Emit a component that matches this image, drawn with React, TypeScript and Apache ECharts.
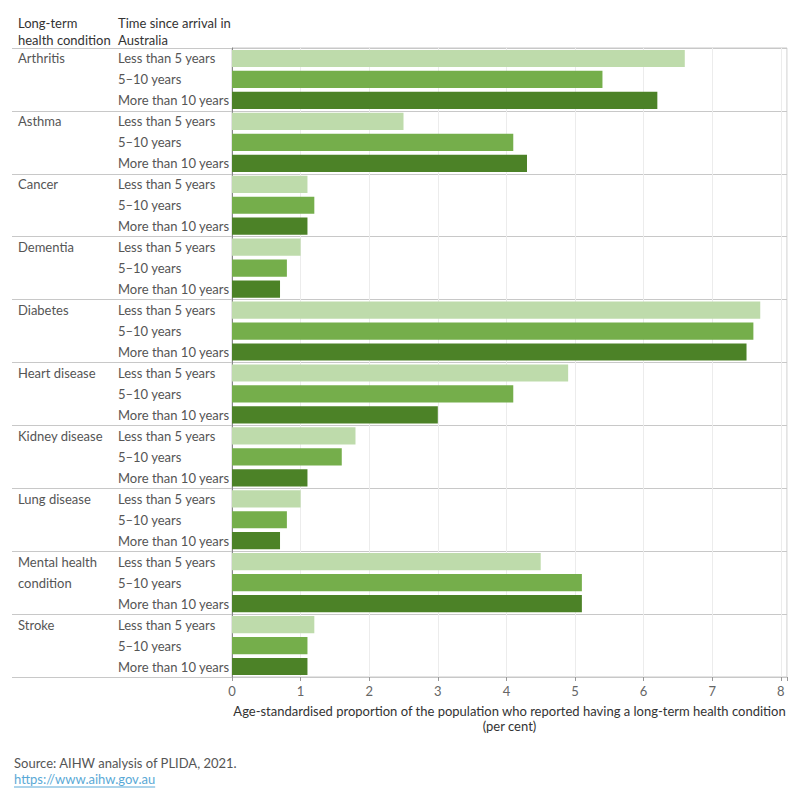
import React, { useEffect, useRef } from "react";
import * as echarts from "echarts";

// Long-term health conditions by time since arrival in Australia
const conditions = [
  "Arthritis",
  "Asthma",
  "Cancer",
  "Dementia",
  "Diabetes",
  "Heart disease",
  "Kidney disease",
  "Lung disease",
  "Mental health\ncondition",
  "Stroke",
];
const periods = ["Less than 5 years", "5–10 years", "More than 10 years"];

// Age-standardised proportion (per cent)
const lessThan5Years = [6.6, 2.5, 1.1, 1.0, 7.7, 4.9, 1.8, 1.0, 4.5, 1.2];
const fiveToTenYears = [5.4, 4.1, 1.2, 0.8, 7.6, 4.1, 1.6, 0.8, 5.1, 1.1];
const moreThan10Years = [6.2, 4.3, 1.1, 0.7, 7.5, 3.0, 1.1, 0.7, 5.1, 1.1];

const xTicks = [0, 1, 2, 3, 4, 5, 6, 7, 8];

const periodColors = ["#bedbab", "#75ae4b", "#4c8227"];
const FONT = "Lato";
const FS = 13;

const sourceText = "Source: AIHW analysis of PLIDA, 2021.";
const linkText = "https://www.aihw.gov.au";

function measure(text: string): number {
  const ctx = document.createElement("canvas").getContext("2d");
  if (!ctx) return text.length * 6.5;
  ctx.font = `${FS}px ${FONT}`;
  return ctx.measureText(text).width;
}

export default function App() {
  const ref = useRef<HTMLDivElement>(null);

  useEffect(() => {
    document.body.style.margin = "0";
    if (!ref.current) return;
    const chart = echarts.init(ref.current, null, { renderer: "svg" });

    const seriesByPeriod = [lessThan5Years, fiveToTenYears, moreThan10Years];
    const rowKeys: string[] = [];
    const rowData: any[] = [];
    conditions.forEach((c, ci) => {
      periods.forEach((p, pi) => {
        rowKeys.push(c + "|" + p);
        rowData.push({
          value: seriesByPeriod[pi][ci],
          itemStyle: { color: periodColors[pi] },
        });
      });
    });

    const gridLeft = 232;
    const labelLeft = 12;
    const xMax = 8.09;
    const linkWidth = measure(linkText);

    chart.setOption({
      animation: false,
      textStyle: { fontFamily: FONT },
      grid: {
        left: gridLeft,
        right: 13,
        top: 48,
        bottom: 123,
        show: true,
        borderColor: "#c8c8c8",
        borderWidth: 1,
      },
      xAxis: {
        type: "value",
        min: 0,
        max: xMax,
        interval: 1,
        axisLine: { show: false },
        axisTick: { show: true, length: 4, lineStyle: { color: "#999" } },
        axisLabel: {
          color: "#666",
          fontSize: FS,
          fontFamily: FONT,
          margin: 7,
          formatter: (v: number) => (xTicks.includes(v) ? String(v) : ""),
        },
        splitLine: { show: true, lineStyle: { color: "#ececec", width: 1 } },
        name:
          "Age-standardised proportion of the population who reported having a long-term health condition\n(per cent)",
        nameLocation: "middle",
        nameGap: 26,
        nameTextStyle: {
          color: "#333",
          fontSize: FS,
          fontFamily: FONT,
          lineHeight: 15,
        },
      },
      yAxis: [
        {
          type: "category",
          inverse: true,
          data: rowKeys,
          axisLine: { show: true, lineStyle: { color: "#888" } },
          axisTick: {
            show: true,
            length: gridLeft - labelLeft,
            interval: (i: number) => i % 3 === 0,
            lineStyle: { color: "#c8c8c8" },
          },
          splitLine: {
            show: true,
            interval: (i: number) => i % 3 === 0,
            lineStyle: { color: "#c8c8c8" },
          },
          axisLabel: {
            align: "left",
            margin: gridLeft - 118,
            color: "#555",
            fontSize: FS,
            fontFamily: FONT,
            interval: 0,
            formatter: (v: string) => v.split("|")[1],
          },
        },
        {
          type: "category",
          inverse: true,
          position: "left",
          data: rowKeys,
          axisLine: { show: false },
          axisTick: { show: false },
          splitLine: { show: false },
          axisLabel: {
            align: "left",
            margin: gridLeft - 18,
            color: "#555",
            fontSize: FS,
            fontFamily: FONT,
            interval: 0,
            formatter: (v: string, i: number) => {
              const lines = v.split("|")[0].split("\n");
              return lines[i % 3] ?? "";
            },
          },
        },
      ],
      series: [
        {
          type: "bar",
          yAxisIndex: 0,
          data: rowData,
          barWidth: "82%",
        },
      ],
      graphic: [
        {
          type: "text",
          left: 18,
          top: 14,
          style: {
            text: "Long-term\nhealth condition",
            fill: "#333",
            font: `${FS}px ${FONT}`,
            lineHeight: 17,
          },
        },
        {
          type: "text",
          left: 118,
          top: 14,
          style: {
            text: "Time since arrival in\nAustralia",
            fill: "#333",
            font: `${FS}px ${FONT}`,
            lineHeight: 17,
          },
        },
        {
          type: "text",
          left: 14,
          top: 756,
          style: {
            text: sourceText,
            fill: "#555",
            font: `${FS}px ${FONT}`,
          },
        },
        {
          type: "text",
          left: 14,
          top: 772,
          style: {
            text: linkText,
            fill: "#5aa9d6",
            font: `${FS}px ${FONT}`,
          },
        },
        {
          type: "line",
          shape: { x1: 14, y1: 787, x2: 14 + linkWidth, y2: 787 },
          style: { stroke: "#5aa9d6", lineWidth: 1 },
        },
      ],
    });

    return () => chart.dispose();
  }, []);

  return <div ref={ref} style={{ width: 800, height: 800 }} />;
}
